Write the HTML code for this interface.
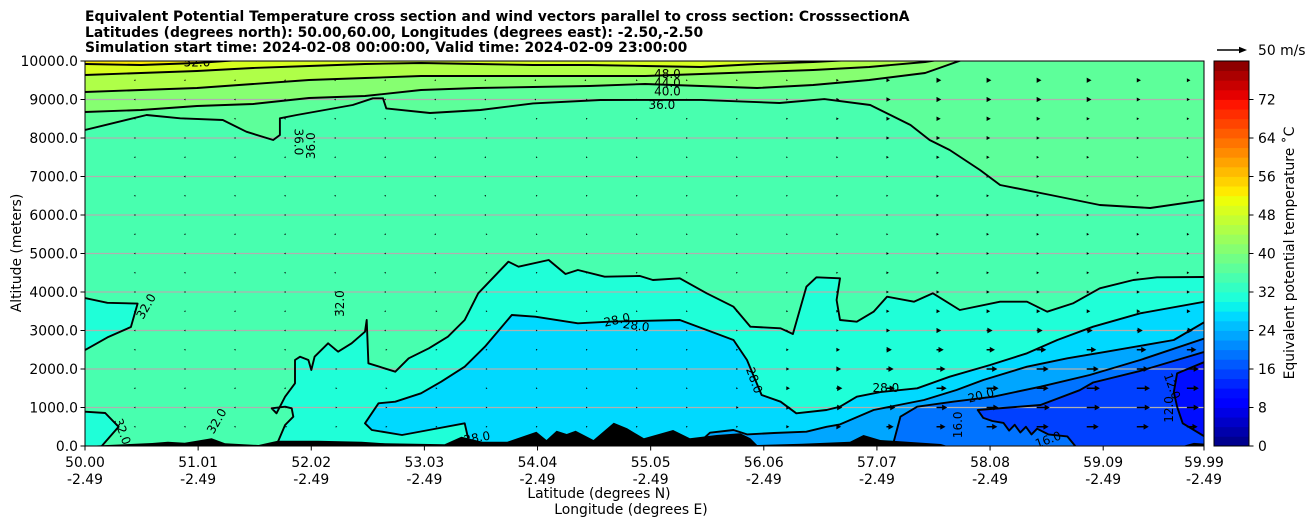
<!DOCTYPE html>
<html><head><meta charset="utf-8">
<style>
html,body{margin:0;padding:0;background:#fff;}
svg{display:block;font-family:"DejaVu Sans","Liberation Sans",sans-serif;}
</style></head>
<body>
<svg id="chart" width="1308" height="526" viewBox="0 0 1308 526">
  <defs><clipPath id="plotclip"><rect x="85" y="61" width="1119" height="385"/></clipPath></defs>
  <g font-weight="bold" font-size="13.9" fill="#000">
    <text x="85" y="21">Equivalent Potential Temperature cross section and wind vectors parallel to cross section: CrosssectionA</text>
    <text x="85" y="37">Latitudes (degrees north): 50.00,60.00, Longitudes (degrees east): -2.50,-2.50</text>
    <text x="85" y="52">Simulation start time: 2024-02-08 00:00:00, Valid time: 2024-02-09 23:00:00</text>
  </g>
  <g id="plot" clip-path="url(#plotclip)"></g>
  <rect x="85" y="61" width="1119" height="385" fill="none" stroke="#000" stroke-width="1"/>
  <g id="axes" font-size="13.9" fill="#000"></g>
  <text x="21" y="253" font-size="13.9" text-anchor="middle" transform="rotate(-90 21 253)">Altitude (meters)</text>
  <text x="599" y="498" font-size="13.9" text-anchor="middle">Latitude (degrees N)</text>
  <text x="631" y="514" font-size="13.9" text-anchor="middle">Longitude (degrees E)</text>
  <g id="cbar" font-size="13.9"></g>
  <text x="1294" y="253" font-size="13.9" text-anchor="middle" transform="rotate(-90 1294 253)">Equivalent potential temperature ˚C</text>
  <g>
    <line x1="1217" y1="50" x2="1241" y2="50" stroke="#000" stroke-width="1.6"/>
    <polygon points="1247,50 1239,46.8 1239,53.2" fill="#000"/>
    <text x="1258" y="55" font-size="13.9">50 m/s</text>
  </g>
</svg>
<script>
// ---------- data ----------
const upperLats = [50,50.5,51,51.5,52,52.5,53,53.5,54,54.5,55,55.5,56,56.5,57,57.5,58,58.5,59,59.5,60];
const iso40 = [8675,8727,8831,8883,9039,9091,9247,9299,9325,9351,9403,9351,9299,9377,9507,9688,10200,10200,10200,10200,10200];
const iso44 = [9195,9247,9299,9403,9507,9558,9610,9610,9610,9610,9610,9662,9714,9766,9844,9974,10200,10200,10200,10200,10200];
const iso48 = [9636,9688,9740,9818,9870,9922,9948,9922,9896,9896,9870,9844,9922,9974,10050,10200,10200,10200,10200,10200,10200];
const iso52 = [9922,9896,9948,10050,10200,10200,10200,10200,10200,10200,10200,10200,10200,10200,10200,10200,10200,10200,10200,10200,10200];
const iso36Lat = [50,50.55,50.85,51.23,51.44,51.68,51.74,51.74,51.89,52.39,52.57,52.66,52.69,53.08,53.53,54.0,54.6,55.5,56.2,56.6,57.01,57.19,57.37,57.54,57.72,57.99,58.17,58.62,59.06,59.51,60];
const iso36Alt = [8208,8597,8512,8468,8164,7948,8078,8512,8597,8857,9030,9030,8770,8649,8727,8900,8987,8990,8909,9010,8857,8597,8338,7948,7688,7169,6779,6519,6260,6182,6390];
const iso32Lat = [51.717,51.786,51.86,51.845,51.786,51.667,51.71,51.786,51.875,51.875,51.92,51.994,52.02,52.05,52.17,52.26,52.38,52.5,52.515,52.53,52.77,52.89,53.07,53.24,53.39,53.51,53.78,53.87,54.14,54.29,54.40,54.64,54.955,55.07,55.31,55.55,55.79,55.94,56.21,56.32,56.44,56.53,56.74,56.71,56.74,56.89,57.04,57.16,57.40,57.57,57.81,58.17,58.41,58.59,58.82,59.06,59.36,59.57,60];
const iso32Alt = [69,545,761,979,1021,979,849,1281,1628,2234,2320,2234,1974,2320,2667,2450,2667,2970,3273,2147,1930,2277,2537,2840,3273,3966,4787,4657,4831,4468,4571,4397,4416,4312,4355,3966,3618,3099,3056,2909,4138,4381,4355,3792,3273,3229,3489,3879,3749,3966,3532,3749,3749,3489,3705,4095,4312,4381,4390];
const lobeLat = [50,50.2,50.47,50.41,50.2,50];
const lobeAlt = [3844,3720,3700,3090,2820,2490];
const cornerLat = [50,50.18,50.3,50.15];
const cornerAlt = [891,857,500,0];
const iso28Lat = [53.42,53.39,53.07,52.83,52.56,52.5,52.62,52.77,53.0,53.18,53.39,53.57,53.81,54.02,54.40,54.7,55.31,55.55,55.79,55.91,56.04,56.21,56.35,56.62,56.74,56.89,57.1,57.43,57.72,58.08,58.41,58.68,59.0,59.42,60];
const iso28Alt = [200,589,416,286,416,589,1108,1151,1368,1671,2060,2580,3403,3359,3186,3230,3273,3013,2753,2234,1325,1151,849,935,1021,1281,1400,1498,1800,2104,2407,2753,3099,3446,3750];
const iso24Lat = [55.45,55.58,55.79,55.91,56.15,56.44,56.62,56.74,57.04,57.49,57.78,58.02,58.41,58.77,59.12,59.72,60];
const iso24Alt = [0,346,416,300,338,372,500,560,935,1195,1455,1714,2060,2277,2450,2753,3229];
const iso20Lat = [57.21,57.28,57.43,57.75,58.11,58.53,58.97,59.42,60];
const iso20Alt = [0,762,1021,1151,1281,1541,1844,2234,2797];
const iso16Lat = [58.84,58.77,58.6,58.5,58.45,58.4,58.35,58.3,58.25,58.2,58.1,58.02,57.97,58.53,58.88,59.0,59.42,60];
const iso16Alt = [0,250,300,450,300,500,350,550,400,600,650,730,935,1065,1450,1650,1950,2450];
const iso12Lat = [60,59.80,59.75,59.72,59.75,60];
const iso12Alt = [240,589,1021,1400,1887,2190];
const terrainLat = [50,50.6,50.74,50.89,51.13,51.25,51.55,51.72,52.08,52.47,52.68,53.21,53.36,53.55,53.77,54.03,54.12,54.21,54.30,54.38,54.54,54.72,54.84,54.99,55.25,55.40,55.64,55.85,55.94,56.0,56.4,56.83,56.95,57.1,57.34,57.64,57.7,59.8,59.9,60];
const terrainAlt = [0,78,112,86,199,69,26,138,138,112,69,43,242,112,112,372,156,397,312,397,156,605,459,199,416,199,286,329,199,26,60,112,286,156,112,52,0,0,80,60];
const yTicks = [0,1000,2000,3000,4000,5000,6000,7000,8000,9000,10000];
const xTickLats = [50.00,51.01,52.02,53.03,54.04,55.05,56.06,57.07,58.08,59.09,59.99];
const xTickLons = ["-2.49","-2.49","-2.49","-2.49","-2.49","-2.49","-2.49","-2.49","-2.49","-2.49","-2.49"];
const cbarTicks = [0,8,16,24,32,40,48,56,64,72];
const windAlts = [500,1000,1500,2000,2500,3000,3500,4000,4500,5000,5500,6000,6500,7000,7500,8000,8500,9000,9500];
const windLat0 = 50.45, windLatStep = 0.447;
const windU = [
 [-1,-1,-1,0,0,0,0,0,0,0,1,1,3,5,8,12,15,18,20,20,20,18],
 [-1,-1,-1,0,0,0,0,0,0,1,1,2,4,7,10,15,18,20,22,22,22,20],
 [-1,-1,-1,-1,0,0,0,0,0,1,1,2,3,6,10,14,17,20,20,22,22,20],
 [-1,-1,-1,-1,0,0,0,0,0,1,1,2,3,5,8,12,15,18,20,20,20,20],
 [-1,-1,-1,-1,-1,0,0,0,0,1,1,2,3,4,6,9,12,14,16,16,16,16],
 [-1,-1,-1,-1,-1,-1,0,0,0,0,1,2,2,3,4,6,8,10,10,10,10,10],
 [-1,-1,-1,-1,-1,-1,0,0,0,0,1,1,2,3,4,5,6,6,6,6,6,6],
 [-1,-1,-1,-1,-1,-1,-1,0,0,0,1,1,2,2,3,4,5,5,5,5,5,5],
 [-2,-2,-1,-1,-1,-1,-1,0,0,0,1,1,2,2,3,4,4,4,4,4,4,4],
 [-2,-2,-1,-1,-1,-1,-1,0,0,0,1,1,2,2,3,4,4,4,4,4,4,4],
 [-2,-2,-2,-1,-1,-1,-1,0,0,0,1,1,2,2,3,3,4,4,4,4,4,4],
 [-2,-2,-2,-1,-1,-1,-1,-1,0,0,0,1,1,2,3,3,4,4,4,4,3,3],
 [-2,-2,-2,-2,-1,-1,-1,-1,0,0,0,1,1,2,3,3,4,4,4,3,3,3],
 [-2,-3,-2,-2,-1,-1,-1,-1,0,0,0,1,1,2,2,3,4,4,4,3,3,3],
 [-2,-2,-2,-1,-1,-1,-1,-1,0,0,0,1,1,2,3,4,5,5,4,4,3,3],
 [-2,-1,-1,-1,-1,-1,-1,0,0,0,1,1,2,3,4,5,6,6,5,4,4,3],
 [-2,-2,-1,-1,-1,-1,-1,-1,0,0,0,1,2,3,4,6,7,7,6,5,4,4],
 [-2,-2,-2,-2,-2,-2,-1,-1,-1,0,0,1,2,3,5,7,8,8,8,8,6,5],
 [-2,-2,-2,-2,-2,-2,-2,-2,-1,-1,0,0,1,2,4,6,8,8,8,8,7,6]
];

// ---------- scales ----------
const X = lat => 85 + (lat - 50) * 1119 / 9.99;
const Y = alt => 446 - alt * 385 / 10000;
const VMAX = 80;
const CY = v => 446 - v * 385 / VMAX;
function jet(t){
  const seg=(pts)=>{for(let i=1;i<pts.length;i++){if(t<=pts[i][0]){const a=pts[i-1],b=pts[i];return a[1]+(b[1]-a[1])*(t-a[0])/(b[0]-a[0]);}}return pts[pts.length-1][1];};
  const r=seg([[0,0],[0.35,0],[0.66,1],[0.89,1],[1,0.5]]);
  const g=seg([[0,0],[0.125,0],[0.375,1],[0.64,1],[0.91,0],[1,0]]);
  const b=seg([[0,0.5],[0.11,1],[0.34,1],[0.65,0],[1,0]]);
  return `rgb(${Math.round(r*255)},${Math.round(g*255)},${Math.round(b*255)})`;
}
const band = lvl => jet((lvl + 1) / VMAX);
const NS='http://www.w3.org/2000/svg';
function mk(tag, attrs, parent){const e=document.createElementNS(NS,tag);for(const k in attrs)e.setAttribute(k,attrs[k]);parent.appendChild(e);return e;}
function pts(lats, alts){return lats.map((l,i)=>X(l).toFixed(1)+','+Y(alts[i]).toFixed(1));}
const plot = document.getElementById('plot');

let bg = mk('rect',{x:85,y:61,width:1119,height:385,fill:band(34)},plot);



function upper(lats, alts, lvl, name){
  const p = pts(lats,alts).concat([X(60.5)+','+Y(10600), X(49.5)+','+Y(10600)]);
  const e = mk('polygon',{points:p.join(' '),fill:band(lvl)},plot);
  
  
}
upper(iso36Lat, iso36Alt, 36, 'band-above-36');
upper(upperLats, iso40, 40, 'band-above-40');
upper(upperLats, iso44, 44, 'band-above-44');
upper(upperLats, iso48, 48, 'band-above-48');
upper(upperLats, iso52, 52, 'band-above-52');

function lower(lats, alts, lvl, name, closeRight){
  let p = pts(lats,alts);
  if(closeRight){ p = p.concat([X(60.5)+','+Y(alts[alts.length-1]), X(60.5)+','+Y(-300), X(lats[0])+','+Y(-300)]); }
  const e = mk('polygon',{points:p.join(' '),fill:band(lvl)},plot);
  
  
}
lower(iso32Lat, iso32Alt, 30, 'band-below-32', true);
lower(lobeLat.concat([49.5,49.5]), lobeAlt.concat([2490,3844]), 30, 'band-below-32-left-lobe', false);
lower(cornerLat.concat([49.5,49.5]), cornerAlt.concat([0,891]), 30, 'band-below-32-corner', false);
lower(iso28Lat, iso28Alt, 26, 'band-below-28', true);
lower(iso24Lat, iso24Alt, 22, 'band-below-24', true);
lower(iso20Lat, iso20Alt, 18, 'band-below-20', true);
lower(iso16Lat, iso16Alt, 14, 'band-below-16', true);
lower(iso12Lat.concat([60.5,60.5]), iso12Alt.concat([2190,240]), 10, 'band-below-12', false);

yTicks.forEach(v=>{
  const g = mk('line',{x1:85,x2:1204,y1:Y(v),y2:Y(v),stroke:'#b0b0b0','stroke-width':1.2},plot);
  
  
});

{
  const p = pts(terrainLat, terrainAlt).concat([X(60)+','+Y(-300), X(50)+','+Y(-300)]);
  const t = mk('polygon',{points:p.join(' '),fill:'#000'},plot);
  
  
}

function cline(lats, alts, name){
  const e = mk('polyline',{points:pts(lats,alts).join(' '),fill:'none',stroke:'#000','stroke-width':1.9,'stroke-linejoin':'round'},plot);
  
  
}
cline(iso36Lat, iso36Alt, 'contour-36');
cline(upperLats, iso40, 'contour-40');
cline(upperLats, iso44, 'contour-44');
cline(upperLats, iso48, 'contour-48');
cline(upperLats, iso52, 'contour-52');
cline(iso32Lat, iso32Alt, 'contour-32');
cline(lobeLat, lobeAlt, 'contour-32-left');
cline(cornerLat, cornerAlt, 'contour-32-corner');
cline(iso28Lat, iso28Alt, 'contour-28');
cline(iso24Lat, iso24Alt, 'contour-24');
cline(iso20Lat, iso20Alt, 'contour-20');
cline(iso16Lat, iso16Alt, 'contour-16');
cline(iso12Lat, iso12Alt, 'contour-12');

const labelText = ["52.0","48.0","44.0","40.0","36.0","36.0","36.0","32.0","32.0","32.0","32.0","28.0","28.0","28.0","28.0","20.0","16.0","16.0","12.0","12.0","28.0"];
const labelLat  = [51.0,55.2,55.2,55.2,55.15,51.9,52.02,50.55,52.28,50.33,51.18,54.75,54.92,55.97,57.15,58.0,57.8,58.6,59.7,59.68,53.5];
const labelAlt  = [9950,9650,9420,9200,8850,7900,7800,3620,3700,370,640,3260,3110,1700,1500,1300,550,150,1550,950,200];
const labelRot  = [0,0,0,0,0,90,-90,-60,-90,70,-60,-12,8,70,0,-15,-90,-20,70,-90,-10];
labelText.forEach((s,i)=>{
  const x=X(labelLat[i]), y=Y(labelAlt[i]);
  const t = mk('text',{x:x,y:y,'font-size':12,'text-anchor':'middle','dominant-baseline':'middle',transform:`rotate(${labelRot[i]} ${x} ${y})`},plot);
  t.textContent=s;
  
  
});

const SC = 30/50;
windAlts.forEach((a,r)=>{
  windU[r].forEach((u,c)=>{
    const x0 = X(windLat0 + c*windLatStep), y0 = Y(a);
    const L = u*SC, d = L>=0?1:-1, al=Math.abs(L);
    let path;
    if(al < 5){
      const h = Math.max(al,1.6), w = Math.max(h*0.55,0.9);
      path = `M${x0+d*h},${y0} L${x0},${y0-w} L${x0},${y0+w} Z`;
    } else {
      const hl=5.2, hw=2.9, sw=0.75, xe=x0+d*al, xb=xe-d*hl;
      path = `M${x0},${y0-sw} L${xb},${y0-sw} L${xb},${y0-hw} L${xe},${y0} L${xb},${y0+hw} L${xb},${y0+sw} L${x0},${y0+sw} Z`;
    }
    const e = mk('path',{d:path,fill:'#000'},plot);
    
    
  });
});

const axes = document.getElementById('axes');
yTicks.forEach(v=>{
  const y=Y(v);
  const l = mk('line',{x1:80.5,x2:85,y1:y,y2:y,stroke:'#000'},axes);
  
  
  const t = mk('text',{x:78,y:y+5,'text-anchor':'end'},axes);
  t.textContent = v.toFixed(1);
  
  
});
xTickLats.forEach((v,i)=>{
  const x=X(v);
  const l = mk('line',{x1:x,x2:x,y1:446,y2:450.5,stroke:'#000'},axes);
  
  
  const t = mk('text',{x:x,y:467,'text-anchor':'middle'},axes);
  t.textContent = v.toFixed(2);
  
  
  const t2 = mk('text',{x:x,y:484,'text-anchor':'middle'},axes);
  t2.textContent = xTickLons[i];
  
  
});

const cb = document.getElementById('cbar');
for(let v=0; v<VMAX; v+=2){
  const r = mk('rect',{x:1214,y:CY(v+2),width:35,height:CY(v)-CY(v+2)+0.4,fill:band(v)},cb);
  
  
}
mk('rect',{x:1214,y:61,width:35,height:385,fill:'none',stroke:'#000','stroke-width':1},cb);
cbarTicks.forEach(v=>{
  const y=CY(v);
  const l = mk('line',{x1:1249,x2:1253.5,y1:y,y2:y,stroke:'#000'},cb);
  
  
  const t = mk('text',{x:1258,y:y+5},cb);
  t.textContent = String(v);
  
  
});
</script>
</body></html>
